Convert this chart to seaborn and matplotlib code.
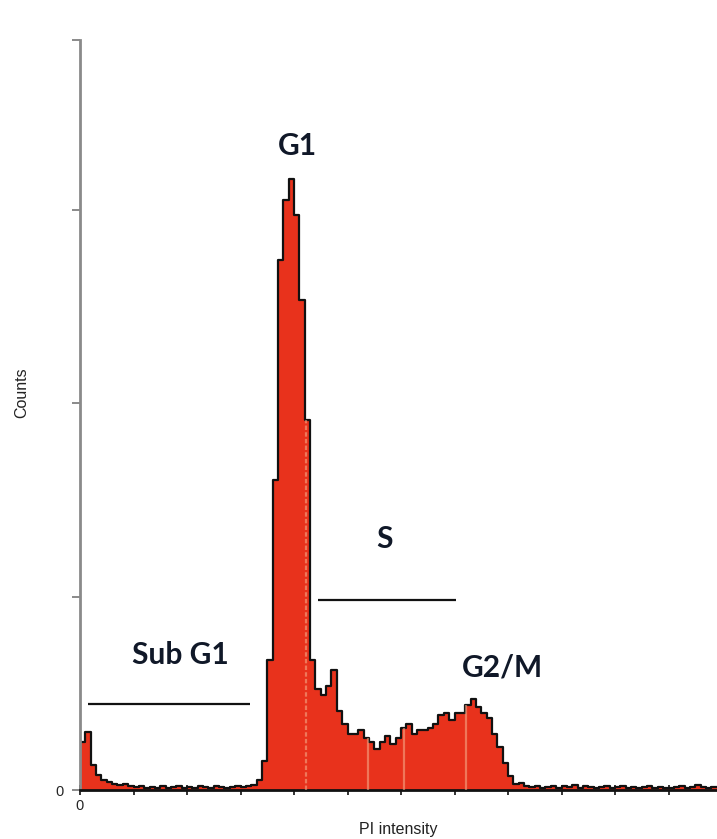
import numpy as np
import pandas as pd
import matplotlib
matplotlib.use("Agg")
import matplotlib.pyplot as plt
import seaborn as sns

# PI intensity channels (bin width 1, ticks every 10) and event counts per bin
bin_width = 1.0
counts = [
    25, 30, 13, 8, 5, 4, 3, 2.6, 3, 2,          # 0-9   sub-G1 debris
    1.5, 2, 1, 1.5, 1, 2, 1, 1.5, 2, 1,          # 10-19
    1.5, 1, 2, 1.5, 1, 2, 1.5, 1, 1.5, 2,        # 20-29
    1.5, 2, 2.5, 5, 15, 67, 160, 274, 305, 316,  # 30-39  G1 rise
    297, 253, 191, 67, 52, 49, 54, 62, 41, 34,   # 40-49
    29, 29, 31, 27, 25, 21, 25, 28, 24, 27,      # 50-59  S phase
    32, 34, 29, 31, 31, 32, 34, 39, 40, 36,      # 60-69
    40, 40, 44, 47, 43, 40, 37, 29, 22, 14,      # 70-79  G2/M
    7, 3, 3.5, 2, 1.5, 2, 1, 1.5, 2, 1,          # 80-89
    2, 1.5, 2.5, 1, 2, 1.5, 1, 1.5, 2, 1,        # 90-99
    1.5, 2, 1, 1.5, 1, 1.5, 2, 1, 1.5, 1,        # 100-109
    1, 1.5, 2, 1, 1.5, 2.5, 1.5, 1, 1.5,         # 110-118
]
n_bins = len(counts)
centers = np.arange(n_bins) * bin_width + bin_width / 2

# pale gate markers inside the filled histogram
gate_x = [42.2, 53.8, 60.6, 72.1]

# phase annotations: (label, x, y)
phase_labels = ["G1", "S", "Sub G1", "G2/M"]
phase_x = [40.7, 56.9, 18.8, 79.0]
phase_y = [332.8, 129.7, 69.8, 63.3]

# gate bars: (x_start, x_end, y)
gate_bar_x0 = [1.5, 44.5]
gate_bar_x1 = [31.8, 70.3]
gate_bar_y = [44.4, 98.2]

df = pd.DataFrame({"pi": centers, "n": counts})

sns.set_theme(style="white")
plt.rcParams["font.family"] = ["Liberation Sans", "DejaVu Sans"]

fig = plt.figure(figsize=(7.17, 8.39), dpi=100)
ax = fig.add_axes([80 / 717, 1 - 790 / 839, 637 / 717, 750 / 839])

red = "#e8321c"
hist_kw = dict(data=df, x="pi", weights="n", binwidth=bin_width,
               binrange=(0, n_bins * bin_width), element="step", ax=ax)
sns.histplot(fill=True, color=red, alpha=1.0, linewidth=0, **hist_kw)
sns.histplot(fill=False, color="#111111", linewidth=1.6, **hist_kw)

# faint pale stripes through the fill
for gx in gate_x:
    h = counts[int(gx // bin_width)]
    ax.vlines(gx, 0, h, color="#f6b08e", lw=1.6, alpha=0.55,
              linestyles=(0, (2, 1)) if gx < 45 else "solid", zorder=3)

for x0, x1, y in zip(gate_bar_x0, gate_bar_x1, gate_bar_y):
    ax.plot([x0, x1], [y, y], color="#111111", lw=1.6, solid_capstyle="butt")

for lab, x, y in zip(phase_labels, phase_x, phase_y):
    ax.text(x, y, lab, ha="center", va="center", fontsize=21.5,
            fontweight="bold", family=["Lato", "DejaVu Sans"], color="#101828")

ax.set_xlim(0, 637 / 5.35)
ax.set_ylim(0, 750 / 1.935)

ax.set_xticks(np.arange(0, 120, 10))
ax.set_xticklabels(["0"] + [""] * 11)
ax.set_yticks([0, 100, 200, 300, 750 / 1.935])
ax.set_yticklabels(["0", "", "", "", ""])
ax.tick_params(axis="x", direction="inout", length=7, width=1.2,
               color="#111111", labelsize=10.5, pad=3, bottom=True)
ax.tick_params(axis="y", direction="out", length=6, width=1.2,
               color="#777777", labelsize=10.5, pad=6, left=True)

for side in ["top", "right"]:
    ax.spines[side].set_visible(False)
ax.spines["left"].set_color("#8a8a8a")
ax.spines["left"].set_linewidth(2.0)
ax.spines["bottom"].set_color("#111111")
ax.spines["bottom"].set_linewidth(2.0)

ax.set_xlabel("PI intensity", fontsize=11.5, color="#222222")
ax.set_ylabel("Counts", fontsize=11.5, color="#222222")
ax.xaxis.set_label_coords(0.5, -0.043)
ax.yaxis.set_label_coords(-0.08, 0.53)

fig.savefig("out.png", dpi=100)
